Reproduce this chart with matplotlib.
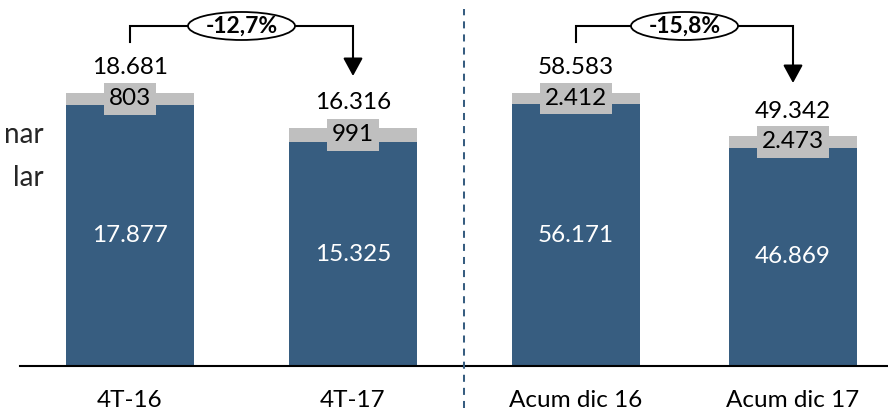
import matplotlib
matplotlib.use("Agg")
import matplotlib.pyplot as plt
from matplotlib.patches import Ellipse
from matplotlib.lines import Line2D
import matplotlib.transforms as mtransforms

# Data (units)
quarter_labels = ["4T-16", "4T-17"]
quarter_base = [17877, 15325]
quarter_extra = [803, 991]
quarter_total = [18681, 16316]
quarter_change = "-12,7%"

ytd_labels = ["Acum dic 16", "Acum dic 17"]
ytd_base = [56171, 46869]
ytd_extra = [2412, 2473]
ytd_total = [58583, 49342]
ytd_change = "-15,8%"

legend_fragments = ["nar", "lar"]

BLUE = "#375D80"
GREY = "#BFBFBF"
FONT = "Lato"
FS = 17.5

plt.rcParams["font.family"] = [FONT, "DejaVu Sans"]

W, H = 888, 413
fig = plt.figure(figsize=(W / 100, H / 100), dpi=100)

base_px = 366  # baseline from top
ax_bottom = 1 - base_px / H
ax_h = base_px / H


def fmt(v):
    return f"{v:,}".replace(",", ".")


def panel(left_px, right_px, centers_px, labels, base, extra, total, change, tip_frac, ymax):
    ax = fig.add_axes([left_px / W, ax_bottom, (right_px - left_px) / W, ax_h])
    c0, c1 = centers_px
    unit = c1 - c0
    ax.set_xlim(-(c0 - left_px) / unit, 1 + (right_px - c1) / unit)
    ax.set_ylim(0, ymax)
    bw = 128 / unit
    x = [0, 1]
    ax.bar(x, base, width=bw, color=BLUE, zorder=2)
    ax.bar(x, extra, bottom=base, width=bw, color=GREY, zorder=2)
    for xi, b, e, t in zip(x, base, extra, total):
        ax.text(xi, b / 2, fmt(b), ha="center", va="center", color="white", fontsize=FS, zorder=3)
        ax.text(xi, b + e / 2, fmt(e), ha="center", va="center", color="black", fontsize=FS, zorder=3,
                bbox=dict(boxstyle="square,pad=0.22", facecolor=GREY, edgecolor="none"))
        ax.annotate(fmt(t), xy=(xi, t), xytext=(0, 18), textcoords="offset points",
                    ha="center", va="center", fontsize=FS, color="black")
    for s in ["top", "left", "right"]:
        ax.spines[s].set_visible(False)
    ax.spines["bottom"].set_linewidth(1.5)
    ax.spines["bottom"].set_color("black")
    ax.set_yticks([])
    ax.set_xticks(x)
    ax.set_xticklabels(labels, fontsize=FS)
    ax.tick_params(axis="x", length=0, pad=17)
    ax.patch.set_visible(False)

    # change bracket
    tr = mtransforms.blended_transform_factory(ax.transData, ax.transAxes)
    y_low = 0.885
    y_top = 0.929
    ax.plot([0, 0, 1, 1], [y_low, y_top, y_top, tip_frac + 0.03], transform=tr,
            color="black", lw=1.5, clip_on=False, solid_joinstyle="miter", zorder=4)
    ax.annotate("", xy=(1, tip_frac), xycoords=tr, xytext=(1, tip_frac + 0.05), textcoords=tr,
                arrowprops=dict(arrowstyle="-|>,head_length=1.1,head_width=0.6", color="black",
                                lw=1.5, mutation_scale=10, shrinkA=0, shrinkB=0))
    ell = Ellipse((0.5, y_top), width=107 / unit, height=28 / base_px, transform=tr,
                  facecolor="white", edgecolor="black", lw=1.3, clip_on=False, zorder=5)
    ax.add_patch(ell)
    ax.text(0.5, y_top, change, transform=tr, ha="center", va="center", fontsize=16.5,
            fontweight="bold", zorder=6)
    return ax


panel(20, 463, (130, 353), quarter_labels, quarter_base, quarter_extra, quarter_total,
      quarter_change, 1 - 76 / base_px, 18681 * base_px / 273)
panel(463, 888, (576, 793), ytd_labels, ytd_base, ytd_extra, ytd_total,
      ytd_change, 1 - 83 / base_px, 58583 * base_px / 273)

# separator between quarter and year-to-date
fig.add_artist(Line2D([463.5 / W, 463.5 / W], [1 - 408 / H, 1 - 9 / H], transform=fig.transFigure,
                      color=BLUE, lw=1.45, linestyle=(0, (3.5, 3.0))))

# legend fragments at the left edge
for txt, ypx in zip(legend_fragments, [135, 178]):
    fig.text(44 / W, 1 - ypx / H, txt, ha="right", va="center", fontsize=20, color="#262626")

fig.savefig("out.png", dpi=100)
